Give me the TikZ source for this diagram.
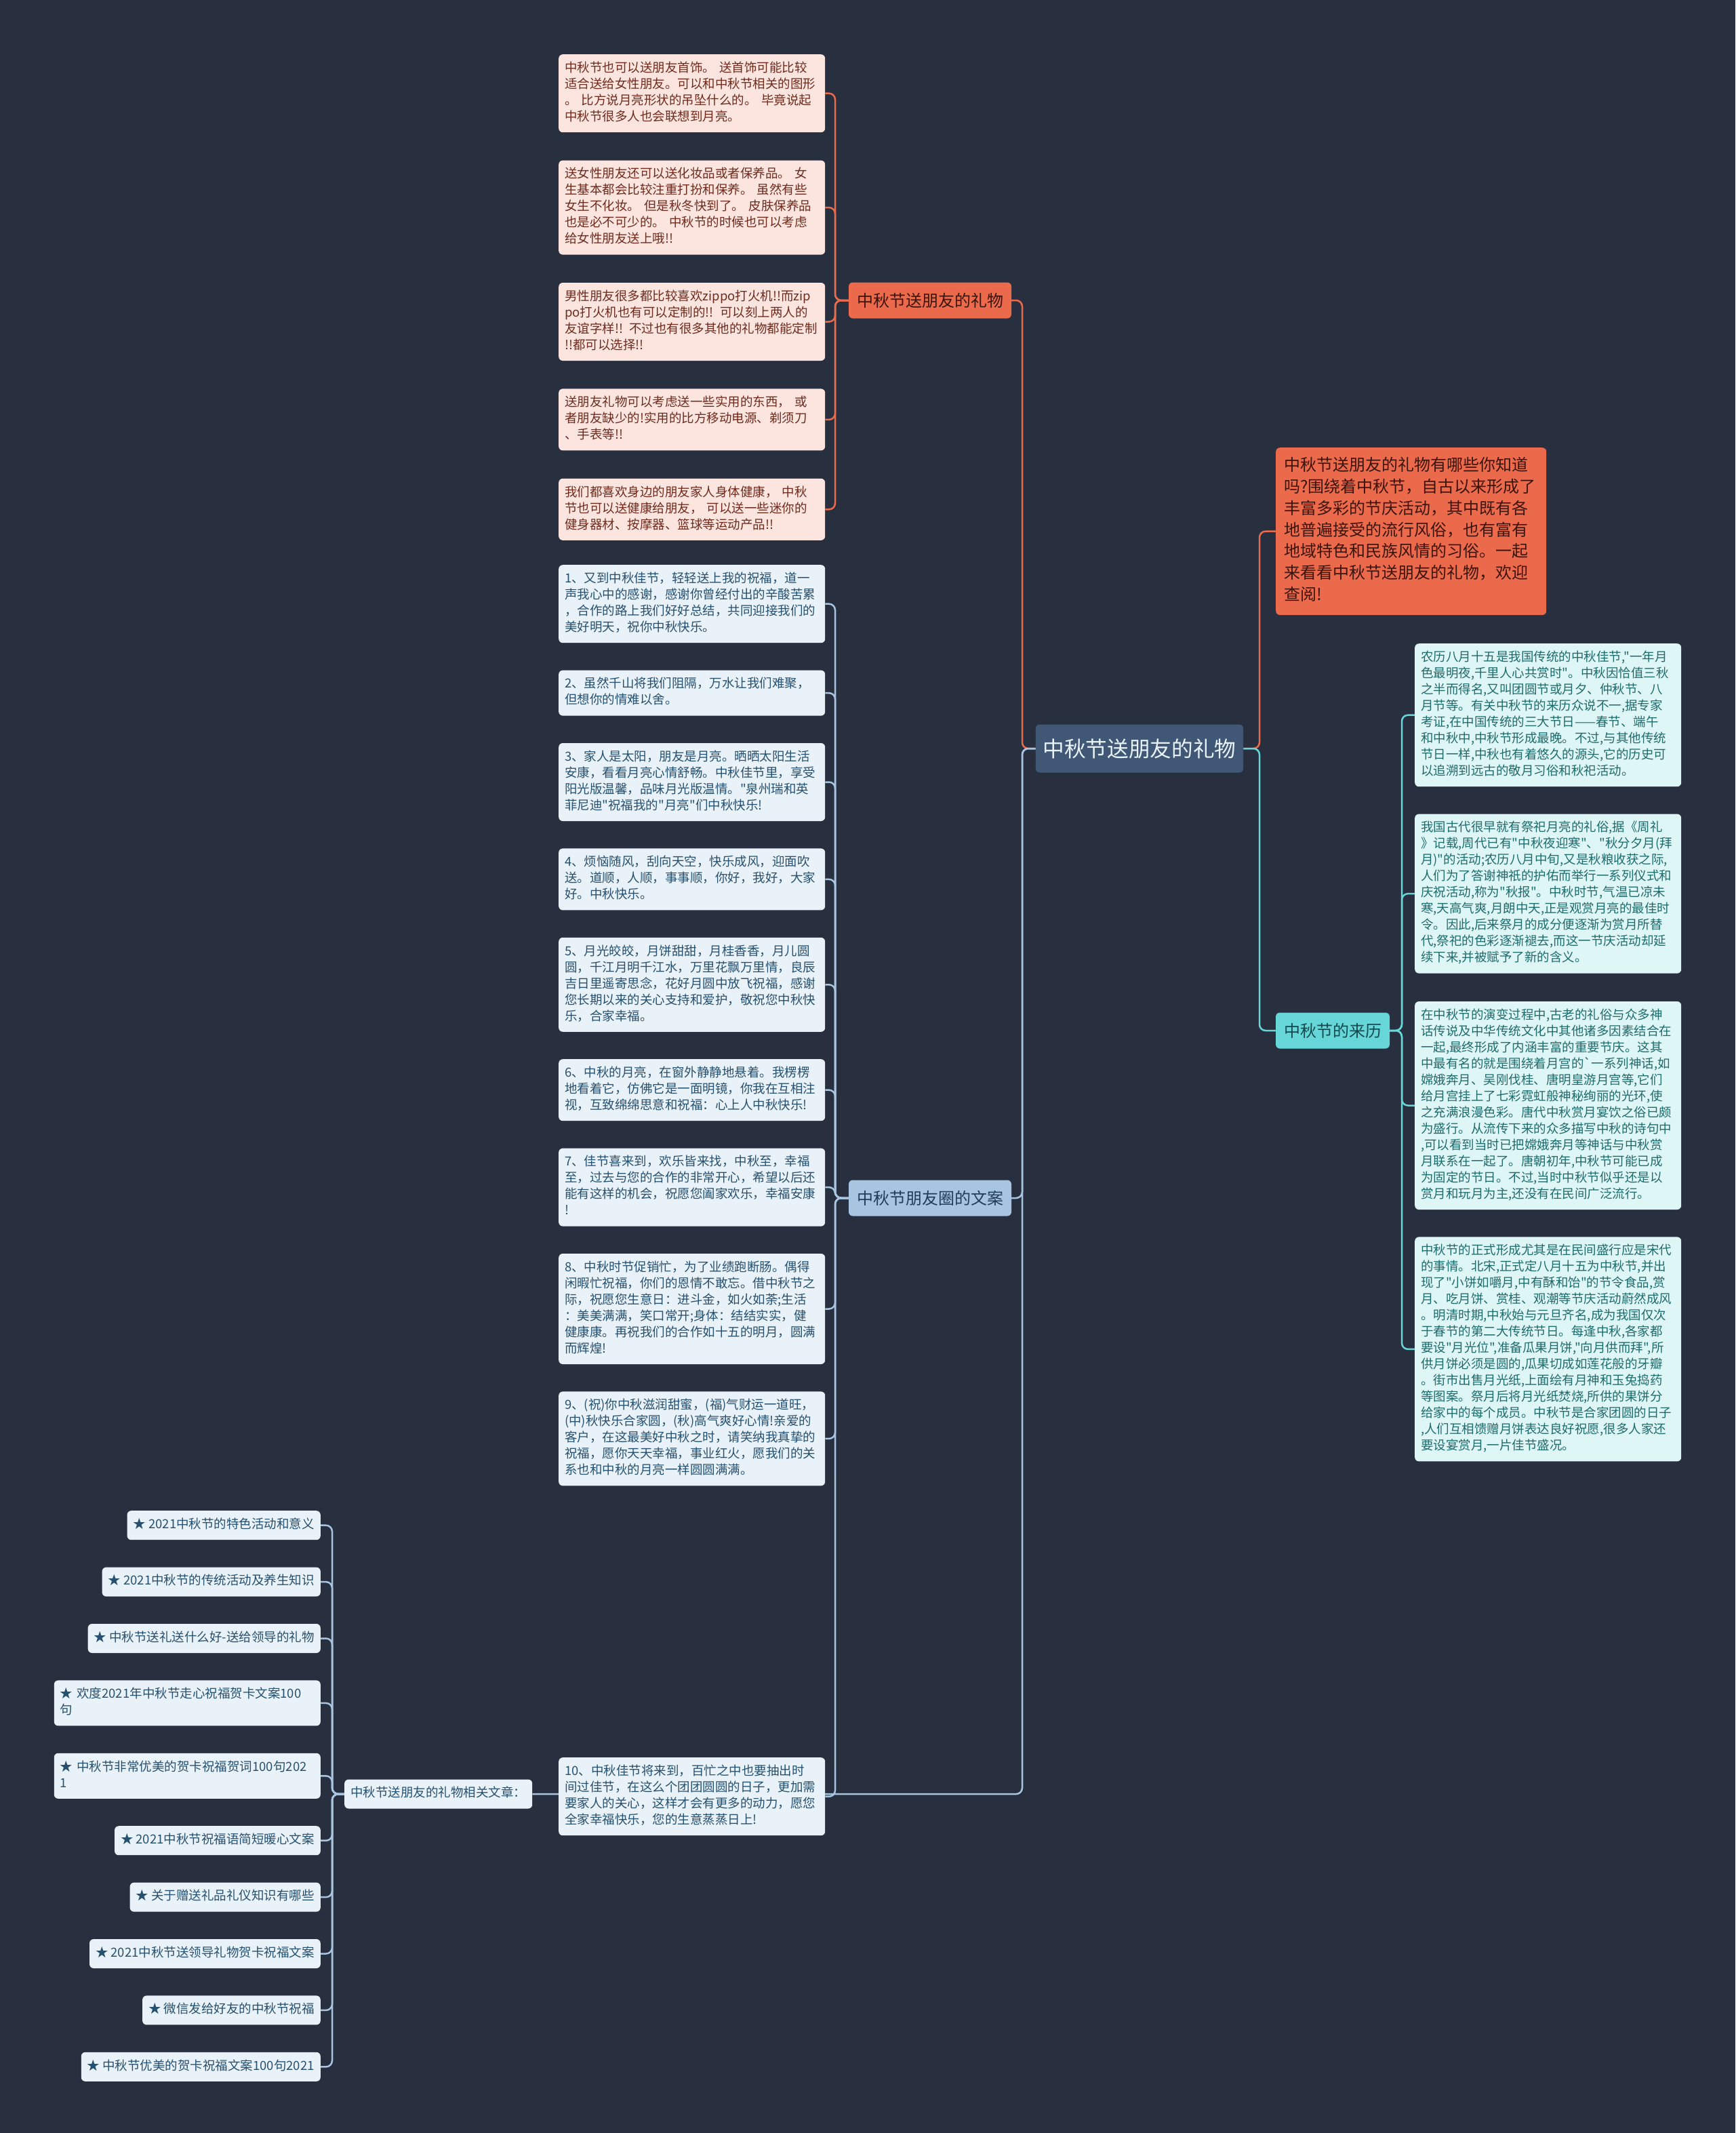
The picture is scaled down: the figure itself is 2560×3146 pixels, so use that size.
\documentclass[tikz,border=0pt]{standalone}
\usepackage{fontspec}
\setmainfont{Noto Sans CJK SC}[Ligatures=TeXOff]
\usetikzlibrary{positioning, backgrounds}
\definecolor{bgcol}{RGB}{40,48,64}
\definecolor{mainfill}{RGB}{64,88,118}
\definecolor{maintext}{RGB}{234,242,250}
\definecolor{giftfill}{RGB}{236,106,76}
\definecolor{gifttext}{RGB}{58,20,10}
\definecolor{paperfill}{RGB}{253,229,223}
\definecolor{papertext}{RGB}{110,42,28}
\definecolor{wishbr}{RGB}{167,196,224}
\definecolor{wishbrtext}{RGB}{29,61,92}
\definecolor{wishfill}{RGB}{234,242,249}
\definecolor{wishtext}{RGB}{37,80,111}
\definecolor{origbr}{RGB}{102,214,217}
\definecolor{origbrtext}{RGB}{17,74,78}
\definecolor{origfill}{RGB}{223,246,246}
\definecolor{origtext}{RGB}{30,107,108}

\begin{document}
\begin{tikzpicture}[x=1pt, y=-1pt,
    txt/.style={rounded corners=6pt, inner xsep=9pt, inner ysep=9.5pt,
                font=\fontsize{18.5}{24}\selectfont,
                execute at begin node=\strut, execute at end node=\strut},
    para/.style={txt, text width=375pt, align=left, anchor=north west},
    gift/.style={para, fill=paperfill, text=papertext},
    wish/.style={para, fill=wishfill, text=wishtext},
    orig/.style={para, fill=origfill, text=origtext},
    item/.style={txt, fill=wishfill, text=wishtext},
    branch/.style={rounded corners=6pt, inner xsep=12pt, minimum height=53pt,
                   font=\fontsize{24}{30}\selectfont},
    link/.style={line width=2.5pt, rounded corners=9pt}]

  % centre and first level
  \node[fill=mainfill, text=maintext, rounded corners=6pt, inner xsep=10.5pt,
        minimum height=71pt, font=\fontsize{31.7}{38}\selectfont]
        (main) at (1681,1104) {中秋节送朋友的礼物};
  \node[branch, fill=giftfill, text=gifttext] (giftbr) at (1372,443) {中秋节送朋友的礼物};
  \node[branch, fill=wishbr, text=wishbrtext] (wishbr) at (1372,1767) {中秋节朋友圈的文案};
  \node[branch, fill=origbr, text=origbrtext] (origbr) at (1966,1520) {中秋节的来历};
  \node[para, fill=giftfill, text=gifttext, inner xsep=12pt, inner ysep=12.5pt,
        font=\fontsize{24}{31.7}\selectfont] (intro) at (1882,660)
    {中秋节送朋友的礼物有哪些你知道\\吗?围绕着中秋节，自古以来形成了\\丰富多彩的节庆活动，其中既有各\\地普遍接受的流行风俗，也有富有\\地域特色和民族风情的习俗。一起\\来看看中秋节送朋友的礼物，欢迎\\查阅!};
  \node[item, anchor=west] (rel) at (508,2646) {中秋节送朋友的礼物相关文章：};

  % gifts
  \node[gift] (p1) at (824,80)
    {中秋节也可以送朋友首饰。 送首饰可能比较\\适合送给女性朋友。可以和中秋节相关的图形\\。 比方说月亮形状的吊坠什么的。 毕竟说起\\中秋节很多人也会联想到月亮。};
  \node[gift, below=41pt of p1] (p2)
    {送女性朋友还可以送化妆品或者保养品。 女\\生基本都会比较注重打扮和保养。 虽然有些\\女生不化妆。 但是秋冬快到了。 皮肤保养品\\也是必不可少的。 中秋节的时候也可以考虑\\给女性朋友送上哦!!};
  \node[gift, below=41pt of p2] (p3)
    {男性朋友很多都比较喜欢zippo打火机!!而zip\\po打火机也有可以定制的!! 可以刻上两人的\\友谊字样!! 不过也有很多其他的礼物都能定制\\!!都可以选择!!};
  \node[gift, below=41pt of p3] (p4)
    {送朋友礼物可以考虑送一些实用的东西， 或\\者朋友缺少的!实用的比方移动电源、剃须刀\\、手表等!!};
  \node[gift, below=41pt of p4] (p5)
    {我们都喜欢身边的朋友家人身体健康， 中秋\\节也可以送健康给朋友， 可以送一些迷你的\\健身器材、按摩器、篮球等运动产品!!};

  % wishes
  \node[wish] (b1) at (824,833)
    {1、又到中秋佳节，轻轻送上我的祝福，道一\\声我心中的感谢，感谢你曾经付出的辛酸苦累\\，合作的路上我们好好总结，共同迎接我们的\\美好明天，祝你中秋快乐。};
  \node[wish, below=40pt of b1] (b2)
    {2、虽然千山将我们阻隔，万水让我们难聚，\\但想你的情难以舍。};
  \node[wish, below=40pt of b2] (b3)
    {3、家人是太阳，朋友是月亮。晒晒太阳生活\\安康，看看月亮心情舒畅。中秋佳节里，享受\\阳光版温馨，品味月光版温情。"泉州瑞和英\\菲尼迪"祝福我的"月亮"们中秋快乐!};
  \node[wish, below=40pt of b3] (b4)
    {4、烦恼随风，刮向天空，快乐成风，迎面吹\\送。道顺，人顺，事事顺，你好，我好，大家\\好。中秋快乐。};
  \node[wish, below=40pt of b4] (b5)
    {5、月光皎皎，月饼甜甜，月桂香香，月儿圆\\圆，千江月明千江水，万里花飘万里情，良辰\\吉日里遥寄思念，花好月圆中放飞祝福，感谢\\您长期以来的关心支持和爱护，敬祝您中秋快\\乐，合家幸福。};
  \node[wish, below=40pt of b5] (b6)
    {6、中秋的月亮，在窗外静静地悬着。我楞楞\\地看着它，仿佛它是一面明镜，你我在互相注\\视，互致绵绵思意和祝福：心上人中秋快乐!};
  \node[wish, below=40pt of b6] (b7)
    {7、佳节喜来到，欢乐皆来找，中秋至，幸福\\至，过去与您的合作的非常开心，希望以后还\\能有这样的机会，祝愿您阖家欢乐，幸福安康\\!};
  \node[wish, below=40pt of b7] (b8)
    {8、中秋时节促销忙，为了业绩跑断肠。偶得\\闲暇忙祝福，你们的恩情不敢忘。借中秋节之\\际，祝愿您生意日：进斗金，如火如荼;生活\\：美美满满，笑口常开;身体：结结实实，健\\健康康。再祝我们的合作如十五的明月，圆满\\而辉煌!};
  \node[wish, below=40pt of b8] (b9)
    {9、(祝)你中秋滋润甜蜜，(福)气财运一道旺，\\(中)秋快乐合家圆，(秋)高气爽好心情!亲爱的\\客户，在这最美好中秋之时，请笑纳我真挚的\\祝福，愿你天天幸福，事业红火，愿我们的关\\系也和中秋的月亮一样圆圆满满。};
  \node[wish] (b10) at (824,2592)
    {10、中秋佳节将来到，百忙之中也要抽出时\\间过佳节，在这么个团团圆圆的日子，更加需\\要家人的关心，这样才会有更多的动力，愿您\\全家幸福快乐，您的生意蒸蒸日上!};

  % origin
  \node[orig] (t1) at (2087,949)
    {农历八月十五是我国传统的中秋佳节,"一年月\\色最明夜,千里人心共赏时"。中秋因恰值三秋\\之半而得名,又叫团圆节或月夕、仲秋节、八\\月节等。有关中秋节的来历众说不一,据专家\\考证,在中国传统的三大节日——春节、端午\\和中秋中,中秋节形成最晚。不过,与其他传统\\节日一样,中秋也有着悠久的源头,它的历史可\\以追溯到远古的敬月习俗和秋祀活动。};
  \node[orig, below=40pt of t1] (t2)
    {我国古代很早就有祭祀月亮的礼俗,据《周礼\\》记载,周代已有"中秋夜迎寒"、"秋分夕月(拜\\月)"的活动;农历八月中旬,又是秋粮收获之际,\\人们为了答谢神祇的护佑而举行一系列仪式和\\庆祝活动,称为"秋报"。中秋时节,气温已凉未\\寒,天高气爽,月朗中天,正是观赏月亮的最佳时\\令。因此,后来祭月的成分便逐渐为赏月所替\\代,祭祀的色彩逐渐褪去,而这一节庆活动却延\\续下来,并被赋予了新的含义。};
  \node[orig, below=41pt of t2] (t3)
    {在中秋节的演变过程中,古老的礼俗与众多神\\话传说及中华传统文化中其他诸多因素结合在\\一起,最终形成了内涵丰富的重要节庆。这其\\中最有名的就是围绕着月宫的\textasciigrave 一系列神话,如\\嫦娥奔月、吴刚伐桂、唐明皇游月宫等,它们\\给月宫挂上了七彩霓虹般神秘绚丽的光环,使\\之充满浪漫色彩。唐代中秋赏月宴饮之俗已颇\\为盛行。从流传下来的众多描写中秋的诗句中\\,可以看到当时已把嫦娥奔月等神话与中秋赏\\月联系在一起了。唐朝初年,中秋节可能已成\\为固定的节日。不过,当时中秋节似乎还是以\\赏月和玩月为主,还没有在民间广泛流行。};
  \node[orig, below=40pt of t3] (t4)
    {中秋节的正式形成尤其是在民间盛行应是宋代\\的事情。北宋,正式定八月十五为中秋节,并出\\现了"小饼如嚼月,中有酥和饴"的节令食品,赏\\月、吃月饼、赏桂、观潮等节庆活动蔚然成风\\。明清时期,中秋始与元旦齐名,成为我国仅次\\于春节的第二大传统节日。每逢中秋,各家都\\要设"月光位",准备瓜果月饼,"向月供而拜",所\\供月饼必须是圆的,瓜果切成如莲花般的牙瓣\\。街市出售月光纸,上面绘有月神和玉兔捣药\\等图案。祭月后将月光纸焚烧,所供的果饼分\\给家中的每个成员。中秋节是合家团圆的日子\\,人们互相馈赠月饼表达良好祝愿,很多人家还\\要设宴赏月,一片佳节盛况。};

  % related articles
  \node[item, anchor=north east] (l1) at (473,2228) {★ 2021中秋节的特色活动和意义};
  \node[item, below=40pt of l1.south east, anchor=north east] (l2) {★ 2021中秋节的传统活动及养生知识};
  \node[item, below=40pt of l2.south east, anchor=north east] (l3) {★ 中秋节送礼送什么好-送给领导的礼物};
  \node[item, below=40pt of l3.south east, anchor=north east, text width=375pt, align=left] (l4)
    {★ 欢度2021年中秋节走心祝福贺卡文案100\\句};
  \node[item, below=40pt of l4.south east, anchor=north east, text width=375pt, align=left] (l5)
    {★ 中秋节非常优美的贺卡祝福贺词100句202\\1};
  \node[item, below=40pt of l5.south east, anchor=north east] (l6) {★ 2021中秋节祝福语简短暖心文案};
  \node[item, below=40pt of l6.south east, anchor=north east] (l7) {★ 关于赠送礼品礼仪知识有哪些};
  \node[item, below=40pt of l7.south east, anchor=north east] (l8) {★ 2021中秋节送领导礼物贺卡祝福文案};
  \node[item, below=40pt of l8.south east, anchor=north east] (l9) {★ 微信发给好友的中秋节祝福};
  \node[item, below=40pt of l9.south east, anchor=north east] (l10) {★ 中秋节优美的贺卡祝福文案100句2021};

  \coordinate (lhub) at (1508,1104);
  \coordinate (rhub) at (1858,1104);
  \coordinate (ghub) at (1232,443);
  \coordinate (whub) at (1232,1767);
  \coordinate (ohub) at (2068,1520);
  \coordinate (ahub) at (490,2646);

  \begin{scope}[on background layer]
    \fill[bgcol] (0,0) rectangle (2560,3146);
    \draw[link, giftfill] (main.west) -- (lhub) |- (giftbr.east);
    \draw[link, wishbr] (main.west) -- (lhub) |- (wishbr.east);
    \draw[link, wishbr] (main.west) -- (lhub) |- (rel.east);
    \draw[link, giftfill] (main.east) -- (rhub) |- (intro.west);
    \draw[link, origbr] (main.east) -- (rhub) |- (origbr.west);
    \foreach \n in {p1,p2,p3,p4,p5}
      \draw[link, giftfill] (giftbr.west) -- (ghub) |- (\n.east);
    \foreach \n in {b1,b2,b3,b4,b5,b6,b7,b8,b9,b10}
      \draw[link, wishbr] (wishbr.west) -- (whub) |- (\n.east);
    \foreach \n in {t1,t2,t3,t4}
      \draw[link, origbr] (origbr.east) -- (ohub) |- (\n.west);
    \foreach \n in {l1,l2,l3,l4,l5,l6,l7,l8,l9,l10}
      \draw[link, wishbr] (rel.west) -- (ahub) |- (\n.east);
  \end{scope}
\end{tikzpicture}
\end{document}
